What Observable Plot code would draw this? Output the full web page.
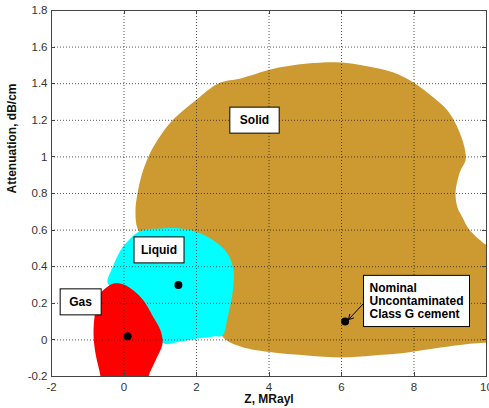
<!DOCTYPE html>
<html><head><meta charset="utf-8">
<script src="https://cdn.jsdelivr.net/npm/d3@7"></script>
<script src="https://cdn.jsdelivr.net/npm/@observablehq/plot@0.6"></script>
<style>body{margin:0;background:#fff;overflow:hidden}#wrap{position:relative;width:489px;height:408px}</style>
</head><body><div id="wrap"><div id="chart"></div></div>
<script>
// Axis ticks
const xTicks = [-2, 0, 2, 4, 6, 8, 10];
const yTicks = [-0.2, 0, 0.2, 0.4, 0.6, 0.8, 1, 1.2, 1.4, 1.6, 1.8];

// Region outlines (Z MRayl, attenuation dB/cm)
const solidX = [0.372,0.317,0.372,0.483,0.676,0.952,1.338,1.972,2.607,3.214,3.49,4.041,5.062,5.972,6.883,7.434,7.986,8.538,8.924,9.2,9.393,9.421,9.283,9.2,9.145,9.2,9.338,9.503,9.834,10.03,10.4,10.4,10.03,9.641,8.731,7.821,6.883,5.972,5.062,4.124,3.214,2.717,2.4,1.5,0.6];
const solidY = [0.609,0.707,0.8,0.898,1.002,1.1,1.2,1.308,1.401,1.428,1.445,1.478,1.510,1.516,1.489,1.461,1.407,1.325,1.254,1.161,1.051,0.98,0.926,0.871,0.8,0.723,0.669,0.609,0.543,0.516,0.5,-0.01,-0.014,-0.02,-0.042,-0.069,-0.085,-0.096,-0.085,-0.069,-0.036,0.019,0.2,0.45,0.55];

const liquidX = [0.372,0.593,1.007,1.559,1.972,2.469,2.855,3.021,2.993,2.855,2.717,2.469,2.028,1.559,1.09,0.455,-0.3,-0.455,-0.317,-0.097,0.124];
const liquidY = [0.587,0.603,0.609,0.609,0.592,0.543,0.472,0.379,0.254,0.122,0.024,0.019,0.008,-0.009,-0.02,0.106,0.28,0.314,0.396,0.489,0.543];

const gasX = [-0.29,-0.014,0.262,0.538,0.814,1.007,1.062,0.869,0.676,0.6,-0.62,-0.648,-0.786,-0.841,-0.786,-0.648,-0.483];
const gasY = [0.308,0.303,0.27,0.215,0.122,0.051,-0.02,-0.113,-0.2,-0.3,-0.3,-0.2,-0.074,0.035,0.161,0.254,0.286];

// Nominal points
const pointX = [0.1, 1.5, 6.1];
const pointY = [0.02, 0.3, 0.1];

// Labels
const labelText = ["Solid", "Liquid", "Gas"];
const labelX = [3.6, 0.966, -1.2];
const labelY = [1.2, 0.491, 0.207];
const noteText = "Nominal\nUncontaminated\nClass G cement";
const noteX = 6.772, noteY = 0.213;
const arrowFrom = [6.607, 0.199];
const arrowTo = [6.193, 0.111];

const pts = (xs, ys) => xs.map((x, i) => ({x, y: ys[i]}));
const fmt = d => String(Math.round(d * 10) / 10);

const W = 489, H = 408, mL = 51, mR = 3, mT = 10, mB = 32;
const frameColor = "#444";

const chart = Plot.plot({
  width: W, height: H,
  marginLeft: mL, marginRight: mR, marginTop: mT, marginBottom: mB,
  style: {fontFamily: "'Liberation Sans', Arial, sans-serif", background: "#fff", color: "#333"},
  x: {domain: [-2, 10]},
  y: {domain: [-0.2, 1.8]},
  marks: [
    Plot.line(pts(solidX, solidY), {x: "x", y: "y", fill: "#cc9a31", stroke: "none", curve: "catmull-rom-closed"}),
    Plot.line(pts(liquidX, liquidY), {x: "x", y: "y", fill: "#00ffff", stroke: "none", curve: "catmull-rom-closed"}),
    Plot.line(pts(gasX, gasY), {x: "x", y: "y", fill: "#ff0000", stroke: "none", curve: "catmull-rom-closed"}),
    Plot.gridX(xTicks, {stroke: "#222", strokeOpacity: 0.75, strokeDasharray: "1,2"}),
    Plot.gridY(yTicks, {stroke: "#222", strokeOpacity: 0.75, strokeDasharray: "1,2"}),
    Plot.frame({stroke: frameColor}),
    Plot.axisX(xTicks, {tickSize: 0, tickPadding: 6, tickFormat: fmt, fontSize: 11.5, label: null}),
    Plot.axisY(yTicks, {tickSize: 0, tickPadding: 4, tickFormat: fmt, fontSize: 11.5, label: null}),
    Plot.text(["Z, MRayl"], {frameAnchor: "bottom", dy: 26, fontWeight: "bold", fontSize: 12, fill: "#111"}),
    Plot.text(["Attenuation, dB/cm"], {frameAnchor: "left", rotate: -90, dx: -39, fontWeight: "bold", fontSize: 12, fill: "#111"}),
    Plot.dot(pts(pointX, pointY), {x: "x", y: "y", r: 4, fill: "#000"}),
    Plot.arrow([0], {x1: () => arrowFrom[0], y1: () => arrowFrom[1], x2: () => arrowTo[0], y2: () => arrowTo[1], stroke: "#000", strokeWidth: 1, headLength: 8}),
    Plot.text(labelText.map((t, i) => ({t, x: labelX[i], y: labelY[i]})), {x: "x", y: "y", text: "t", fontWeight: "bold", fontSize: 12, fill: "#000"}),
    Plot.text([noteText], {x: () => noteX, y: () => noteY, textAnchor: "start", lineHeight: 1.05, fontWeight: "bold", fontSize: 12, fill: "#000"})
  ]
});
document.getElementById("chart").append(chart);

const NS = "http://www.w3.org/2000/svg";
const sx = chart.scale("x"), sy = chart.scale("y");
const x0 = sx.apply(-2), x1 = sx.apply(10), y0 = sy.apply(1.8), y1 = sy.apply(-0.2);

// Clip the region fills to the plot frame
const cp = document.createElementNS(NS, "clipPath");
cp.setAttribute("id", "fill-clip");
const cr = document.createElementNS(NS, "rect");
cr.setAttribute("x", x0); cr.setAttribute("y", y0);
cr.setAttribute("width", x1 - x0); cr.setAttribute("height", y1 - y0);
cp.appendChild(cr);
chart.insertBefore(cp, chart.firstChild);
chart.querySelectorAll('g[aria-label="line"]').forEach(g => g.setAttribute("clip-path", "url(#fill-clip)"));

// Overlay: axes box and inward ticks on all four sides, placed from the scales
const ov = d3.select("#wrap").append("svg")
  .attr("width", W).attr("height", H)
  .style("position", "absolute").style("left", "0").style("top", "0").style("pointer-events", "none");
const fg = ov.append("g").attr("stroke", frameColor).attr("fill", "none").attr("stroke-width", 1).attr("shape-rendering", "crispEdges");
fg.append("rect").attr("x", x0 + 0.5).attr("y", y0 + 0.5).attr("width", x1 - x0).attr("height", y1 - y0);
xTicks.forEach(v => {
  const px = Math.round(sx.apply(v)) + 0.5;
  fg.append("line").attr("x1", px).attr("x2", px).attr("y1", y1).attr("y2", y1 - 4);
  fg.append("line").attr("x1", px).attr("x2", px).attr("y1", y0).attr("y2", y0 + 4);
});
yTicks.forEach(v => {
  const py = Math.round(sy.apply(v)) + 0.5;
  fg.append("line").attr("y1", py).attr("y2", py).attr("x1", x0).attr("x2", x0 + 4);
  fg.append("line").attr("y1", py).attr("y2", py).attr("x1", x1).attr("x2", x1 - 4);
});
// Fallback border drawn by CSS, same place as the box above
d3.select("#wrap").append("div")
  .style("position", "absolute").style("box-sizing", "border-box")
  .style("left", x0 + "px").style("top", y0 + "px")
  .style("width", (x1 - x0 + 1) + "px").style("height", (y1 - y0 + 1) + "px")
  .style("border", "1px solid " + frameColor).style("pointer-events", "none");

// White boxes behind the annotation texts
const padX = {"Solid": 10, "Liquid": 7, "Gas": 9};
const boxed = new Set([...labelText, noteText.replace(/\n/g, "")]);
chart.querySelectorAll("text").forEach(t => {
  const key = t.textContent;
  if (!boxed.has(key)) return;
  const bb = t.getBBox();
  const p = padX[key] != null ? padX[key] : 6;
  const r = document.createElementNS(NS, "rect");
  r.setAttribute("x", bb.x - p);
  r.setAttribute("y", bb.y - 6);
  r.setAttribute("width", bb.width + 2 * p);
  r.setAttribute("height", bb.height + 12);
  r.setAttribute("fill", "#fff");
  r.setAttribute("stroke", "#000");
  if (t.getAttribute("transform")) r.setAttribute("transform", t.getAttribute("transform"));
  t.parentNode.insertBefore(r, t);
});
</script>
</body></html>
